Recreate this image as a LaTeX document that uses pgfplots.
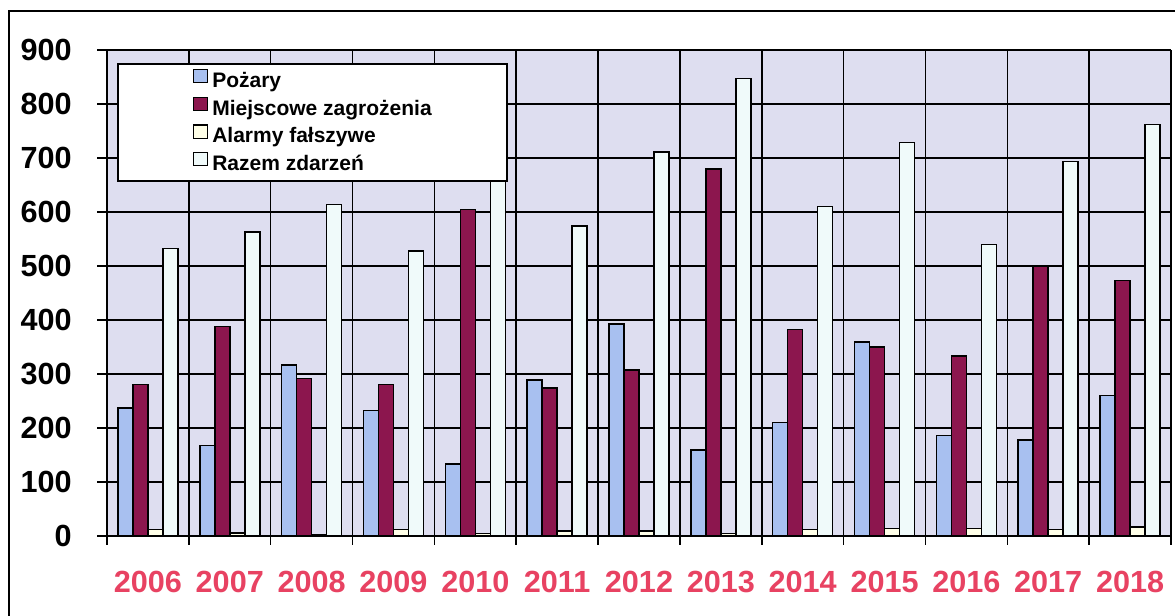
\documentclass[border=0pt]{standalone}
\usepackage{fontspec}
\setmainfont{Liberation Sans}
\usepackage{pgfplots}
\pgfplotsset{compat=1.18}

\definecolor{tlo}{RGB}{222,222,240}
\definecolor{pozary}{RGB}{168,192,240}
\definecolor{miejsc}{RGB}{140,22,78}
\definecolor{alarmy}{RGB}{255,255,232}
\definecolor{razem}{RGB}{240,250,250}
\definecolor{lata}{RGB}{232,66,98}

\pgfplotsset{
  legsq/.style={legend image code/.code={
      \path (0pt,0);
      \draw[##1,line width=0.6pt] (0pt,-0.3pt) rectangle (7pt,6.3pt);
      \path (9pt,0);}},
}

\begin{document}
\begin{tikzpicture}
\useasboundingbox (0,0) rectangle (587.5pt,308pt);
\fill[white] (0,0) rectangle (587.5pt,308pt);
\draw[line width=1pt] (4.25pt,0) -- (4.25pt,302.5pt) -- (587.5pt,302.5pt);
\begin{axis}[
  at={(53.5pt,40pt)}, anchor=south west,
  scale only axis, width=532pt, height=243pt,
  ybar=0pt, bar width=7.5pt,
  xmin=-0.5, xmax=12.5, ymin=0, ymax=900,
  axis background/.style={fill=tlo},
  axis x line*=bottom, axis y line*=left,
  axis line style={black, line width=1pt, -},
  tick align=outside,
  xtick={0,...,12},
  xticklabels={2006,2007,2008,2009,2010,2011,2012,2013,2014,2015,2016,2017,2018},
  major x tick style={draw=none},
  minor xtick={-0.5,0.5,...,12.5},
  minor tick length=4.5pt,
  minor x tick style={black, line width=0.75pt},
  xminorgrids=true,
  ytick={0,100,...,900},
  major tick length=5pt,
  ytick style={black, line width=0.75pt},
  ymajorgrids=true,
  grid style={black, line width=0.75pt},
  /pgf/number format/assume math mode=true,
  xticklabel style={font=\fontsize{15.3}{16}\selectfont\bfseries, text=lata,
    anchor=center, inner sep=0pt, yshift=-18pt},
  yticklabel style={font=\fontsize{15.3}{16}\selectfont\bfseries,
    anchor=east, inner sep=0pt, xshift=-12.5pt},
  legend style={at={(0.0094,0.973)}, anchor=north west, draw=black,
    line width=0.8pt, fill=white, inner xsep=37.5pt, inner ysep=2.5pt,
    font=\fontsize{10.5}{12}\selectfont\bfseries, row sep=2pt,
    nodes={inner sep=0pt, text height=7.9pt, text depth=2.6pt}},
  legend cell align=left,
]
\addplot[fill=pozary, draw=black, line width=0.75pt, legsq] coordinates {
(0,237) (1,168) (2,317) (3,232) (4,133) (5,289) (6,393) (7,159) (8,210) (9,359) (10,186) (11,178) (12,260)};
\addplot[fill=miejsc, draw=black, line width=0.75pt, legsq] coordinates {
(0,281) (1,388) (2,292) (3,281) (4,605) (5,274) (6,307) (7,680) (8,382) (9,350) (10,333) (11,500) (12,473)};
\addplot[fill=alarmy, draw=black, line width=0.75pt, legsq] coordinates {
(0,12) (1,6) (2,3) (3,12) (4,5) (5,9) (6,9) (7,5) (8,12) (9,14) (10,14) (11,12) (12,17)};
\addplot[fill=razem, draw=black, line width=0.75pt, legsq] coordinates {
(0,532) (1,563) (2,614) (3,528) (4,743) (5,574) (6,711) (7,847) (8,610) (9,729) (10,540) (11,694) (12,762)};
\legend{Pożary, Miejscowe zagrożenia, Alarmy fałszywe, Razem zdarzeń}
\end{axis}
\end{tikzpicture}
\end{document}
